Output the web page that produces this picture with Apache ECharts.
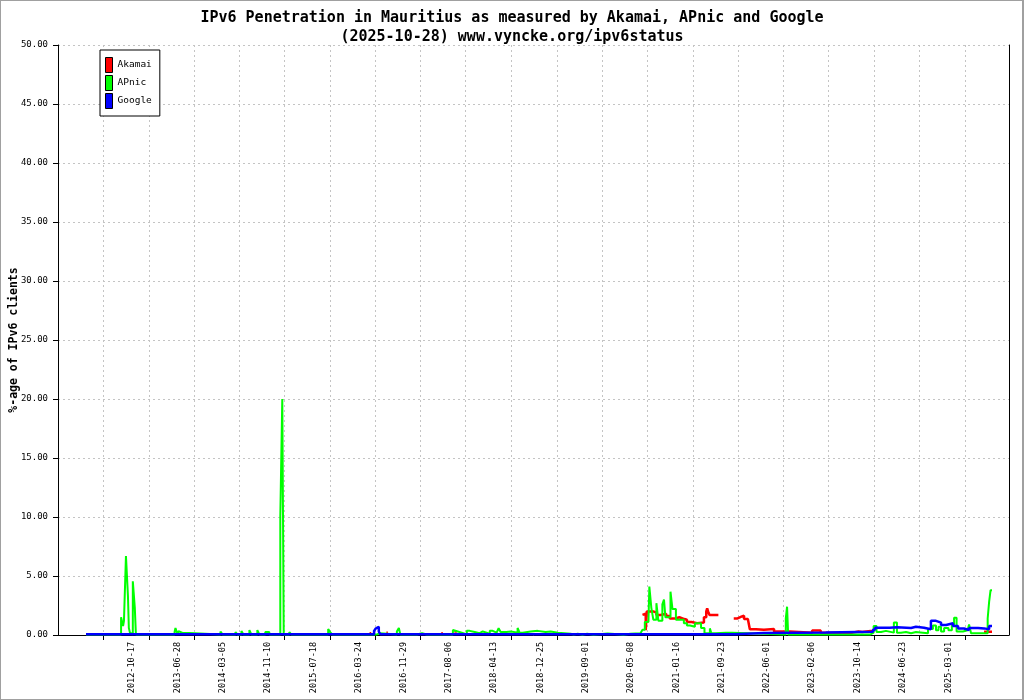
<!DOCTYPE html>
<html>
<head>
<meta charset="utf-8">
<script src="https://cdn.jsdelivr.net/npm/echarts@6/dist/echarts.min.js"></script>
<style>
html,body{margin:0;padding:0;background:#fff;}
#wrap{position:relative;width:1024px;height:700px;}
#c{position:absolute;left:0;top:0;width:1024px;height:700px;}
#frame{position:absolute;left:0;top:0;width:1024px;height:700px;box-sizing:border-box;border:1px solid #a0a0a0;border-right-width:2px;pointer-events:none;}
</style>
</head>
<body>
<div id="wrap"><div id="c"></div><div id="frame"></div></div>
<script>
// ---- tick labels (x axis) ----
const labelDates = ['2012-10-17','2013-06-28','2014-03-05','2014-11-10','2015-07-18','2016-03-24','2016-11-29',
  '2017-08-06','2018-04-13','2018-12-25','2019-09-01','2020-05-08','2021-01-16','2021-09-23','2022-06-01',
  '2023-02-06','2023-10-14','2024-06-23','2025-03-01'];
const seriesNames = ['Akamai','APnic','Google'];

// ---- Akamai ----
const akamaiDates = ['2016-05-24','2016-06-02','2016-06-03','2016-08-25','2016-09-02','2016-09-03',
  '2017-06-25','2017-07-03','2017-07-04','2017-09-05','2017-09-19','2017-09-20','2018-03-03','2018-03-10','2018-03-11',
  '2020-07-12','2020-07-20','2020-07-30','2020-08-05','2020-09-10','2020-09-27','2020-10-20','2020-11-20','2020-12-10',
  '2021-01-10','2021-02-01','2021-03-01','2021-03-15','2021-04-10','2021-05-10','2021-06-17','2021-06-30','2021-07-05',
  '2021-07-12','2021-07-18','2021-09-05',
  '2021-11-29','2021-12-20','2022-01-10','2022-01-25','2022-02-15','2022-02-26','2022-04-01','2022-05-15','2022-07-10',
  '2022-10-05','2023-02-06','2023-03-25','2023-09-17','2023-10-20','2023-11-10','2023-12-26','2024-01-12',
  '2025-09-14','2025-10-28'];
const akamaiValues = [0.15,0.15,null,0.2,0.2,null,
  0.15,0.15,null,0.3,0.3,null,0.15,0.15,null,
  1.7,1.8,0.4,2.0,1.9,1.7,1.8,1.6,1.4,
  1.5,1.35,1.3,1.1,1.0,1.05,1.5,2.0,2.26,
  1.9,1.7,null,
  1.4,1.55,1.64,1.35,1.5,0.48,0.45,0.5,0.3,
  0.2,0.38,0.2,0.3,0.25,0.35,0.3,null,
  0.28,0.28];

// ---- APnic ----
const apnicDates = ['2012-02-06','2012-08-18','2012-08-29','2012-09-03','2012-09-14','2012-09-25','2012-09-30','2012-10-06',
  '2012-10-11','2012-10-22','2012-11-02','2012-11-08',
  '2013-06-10','2013-06-15','2013-06-26','2013-07-02','2013-07-13','2013-07-24','2013-08-04','2013-08-15','2013-08-20','2013-08-31',
  '2014-02-19','2014-03-02','2014-05-13','2014-05-24','2014-06-15','2014-06-26','2014-07-29','2014-08-09','2014-09-11','2014-09-22',
  '2014-10-25','2014-11-16','2014-12-08','2014-12-19','2015-01-16','2015-01-27','2015-02-04','2015-03-07','2015-03-18',
  '2015-04-25','2015-05-06','2015-06-03','2015-06-12','2015-07-01','2015-07-10','2015-07-28','2015-08-06','2015-08-18','2015-08-27',
  '2015-10-08','2015-10-19','2015-10-30','2016-01-26','2016-02-02','2016-05-04','2016-05-10','2016-07-04','2016-07-21',
  '2016-10-22','2016-11-02','2016-11-10','2017-01-13','2017-01-20','2017-02-10','2017-03-10','2017-04-05','2017-04-12',
  '2017-05-15','2017-05-22','2017-07-20','2017-07-27','2017-08-28','2017-09-08','2017-09-24','2017-10-16','2017-11-13',
  '2017-11-29','2017-12-27','2018-01-23','2018-02-09','2018-03-03','2018-03-20','2018-04-05','2018-04-27','2018-05-08',
  '2018-05-19','2018-06-20','2018-07-15','2018-08-21','2018-09-01','2018-09-18','2018-11-01','2018-12-10','2019-01-23',
  '2019-02-20','2019-03-31','2019-06-11','2019-06-27','2019-07-20','2019-08-15','2019-09-10','2019-10-15','2020-01-01',
  '2020-02-10','2020-03-29','2020-05-06','2020-07-01','2020-07-12','2020-07-25','2020-08-14','2020-08-19','2020-08-30',
  '2020-09-10','2020-09-27','2020-10-08','2020-10-30','2020-11-08','2020-11-16','2020-12-14','2020-12-25','2021-01-13',
  '2021-02-03','2021-02-26','2021-03-15','2021-04-01','2021-04-28','2021-06-01','2021-06-20','2021-07-20','2021-07-28',
  '2021-08-20','2021-10-16','2021-11-20','2022-09-13','2022-09-20','2022-09-26','2022-10-11','2023-06-01','2023-06-10',
  '2023-12-26','2024-01-12','2024-01-28','2024-02-22','2024-03-20','2024-05-03','2024-05-20','2024-06-11','2024-07-09',
  '2024-08-06','2024-09-02','2024-10-10','2024-11-08','2024-12-05','2024-12-22','2025-01-05','2025-01-19','2025-02-05',
  '2025-03-01','2025-03-20','2025-04-01','2025-04-15','2025-05-20','2025-06-15','2025-06-23','2025-07-04','2025-10-04',
  '2025-10-12','2025-10-20','2025-10-28'];
const apnicValues = [0.05,1.5,0.76,1.2,6.7,3.3,0.6,0.2,
  0.05,4.55,2.3,0.05,
  0.25,0.6,0.05,0.33,0.17,0.05,0.17,0.05,0.17,0.05,
  0.3,0.05,0.25,0.05,0.33,0.05,0.42,0.05,0.42,0.05,
  0.25,0.05,0.1,0.05,10,20,0.05,0.25,0.05,
  0.15,0.05,0.1,0.05,0.1,0.05,0.1,0.05,0.1,0.05,
  0.5,0.25,0.05,0.1,0.05,0.1,0.05,0.15,0.05,
  0.3,0.6,0.05,0.1,0.05,0.15,0.05,0.1,0.05,
  0.1,0.05,0.1,0.05,0.42,0.3,0.2,0.05,0.35,
  0.25,0.15,0.3,0.2,0.1,0.35,0.2,0.15,0.57,
  0.25,0.3,0.2,0.6,0.2,0.3,0.35,0.25,0.3,
  0.2,0.1,0.05,0.1,0.03,0.1,0.03,0.12,0.08,
  0.03,0.1,0.15,0.3,0.45,1.1,1.2,4.1,2.3,
  1.3,2.7,1.2,2.6,3.0,1.5,3.67,2.2,1.3,
  1.3,1.0,0.8,0.7,1.0,0.6,0.15,0.56,0.15,
  0.2,0.2,0.05,1.4,2.4,0.05,0.05,0.15,0.05,
  0.2,0.76,0.25,0.35,0.2,1.05,0.2,0.25,0.15,
  0.25,0.2,0.15,0.5,0.8,0.4,0.7,0.3,0.6,
  0.4,0.8,1.47,0.3,0.4,0.3,0.9,0.15,1.4,
  2.8,3.8,3.8];

// ---- Google ----
const googleDates = ['2012-02-06','2016-06-18','2016-06-27','2016-07-05','2016-07-14','2016-07-22','2021-12-05','2022-05-15',
  '2023-04-22','2024-01-08','2024-01-20','2024-04-10','2024-05-20','2024-08-06','2024-09-02','2024-10-17','2024-11-24',
  '2024-12-22','2025-01-19','2025-02-16','2025-03-26','2025-04-23','2025-05-26','2025-06-23','2025-08-12','2025-09-14',
  '2025-10-12','2025-10-28'];
const googleValues = [0.06,0.35,0.55,0.7,0.3,0.06,0.17,0.22,
  0.28,0.45,0.62,0.66,0.6,0.7,0.62,0.48,1.2,
  1.05,0.85,1.0,0.76,0.55,0.42,0.6,0.56,0.48,
  0.76,0.8];

const DAY = 86400000;
const ts = s => new Date(s + 'T00:00:00').getTime();
const labelValues = labelDates.map(ts);
const tickValues = labelValues.map(v => v - 159 * DAY);
tickValues.push(labelValues[labelValues.length - 1] + 91 * DAY);

const zip = (d, v) => d.map((x, i) => [ts(x), v[i]]);
const mono = 'DejaVu Sans Mono';
const pad2 = n => (n < 10 ? '0' : '') + n;
const fmtDate = v => { const d = new Date(v + 12 * 3600000); return d.getFullYear() + '-' + pad2(d.getMonth() + 1) + '-' + pad2(d.getDate()); };

const chart = echarts.init(document.getElementById('c'), null, {renderer: 'canvas'});
chart.setOption({
  animation: false,
  backgroundColor: '#ffffff',
  title: {
    text: 'IPv6 Penetration in Mauritius as measured by Akamai, APnic and Google\n(2025-10-28) www.vyncke.org/ipv6status',
    left: 'center', top: 4,
    textStyle: {fontFamily: mono, fontWeight: 'bold', fontSize: 15, lineHeight: 19, color: '#000', align: 'center'}
  },
  legend: {
    data: seriesNames,
    orient: 'vertical', left: 100, top: 50,
    backgroundColor: '#fff',
    borderColor: '#000', borderWidth: 1, borderRadius: 0,
    padding: [7, 8, 7, 5],
    itemWidth: 7, itemHeight: 15, itemGap: 2, itemTextGap: 5,
    icon: 'rect',
    itemStyle: {borderColor: '#000', borderWidth: 1},
    textStyle: {fontFamily: mono, fontSize: 9.5, color: '#000'}
  },
  grid: {left: 58, right: 15, top: 45, bottom: 65, containLabel: false, outerBoundsMode: 'none'},
  xAxis: {
    type: 'value',
    min: ts('2011-09-04'), max: ts('2026-01-30'),
    axisLine: {show: true, onZero: false, lineStyle: {color: '#000', width: 1}},
    axisTick: {show: true, customValues: tickValues, length: 5, lineStyle: {color: '#000'}},
    axisLabel: {
      customValues: labelValues, rotate: 90, margin: 7,
      fontFamily: mono, fontSize: 8.5, color: '#000',
      formatter: v => fmtDate(v)
    },
    splitLine: {show: true, lineStyle: {color: '#c4c4c4', type: [2, 3], width: 1}}
  },
  yAxis: [{
    type: 'value', min: 0, max: 50, interval: 5,
    name: '%-age of IPv6 clients', nameLocation: 'middle', nameGap: 38, nameRotate: 90, nameMoveOverlap: false,
    nameTextStyle: {fontFamily: mono, fontWeight: 'bold', fontSize: 11.5, color: '#000'},
    axisLine: {show: true, lineStyle: {color: '#000', width: 1}},
    axisTick: {show: true, length: 5, lineStyle: {color: '#000'}},
    axisLabel: {fontFamily: mono, fontSize: 9, color: '#000', margin: 10, formatter: v => v.toFixed(2)},
    splitLine: {show: true, lineStyle: {color: '#c4c4c4', type: [2, 3], width: 1}}
  }, {
    type: 'value', min: 0, max: 50, position: 'right',
    axisLine: {show: true, lineStyle: {color: '#000', width: 1}},
    axisTick: {show: false}, axisLabel: {show: false}, splitLine: {show: false}
  }],
  series: [
    {name: 'Akamai', type: 'line', step: 'end', symbol: 'none', connectNulls: false,
     data: zip(akamaiDates, akamaiValues), color: '#ff0000',
     itemStyle: {color: '#ff0000'}, lineStyle: {color: '#ff0000', width: 2.5}, z: 2},
    {name: 'APnic', type: 'line', step: 'end', symbol: 'none',
     data: zip(apnicDates, apnicValues), color: '#00ff00',
     itemStyle: {color: '#00ff00'}, lineStyle: {color: '#00ff00', width: 2}, z: 3},
    {name: 'Google', type: 'line', step: 'end', symbol: 'none',
     data: zip(googleDates, googleValues), color: '#0000ff',
     itemStyle: {color: '#0000ff'}, lineStyle: {color: '#0000ff', width: 2.5}, z: 4}
  ]
});
</script>
</body>
</html>
